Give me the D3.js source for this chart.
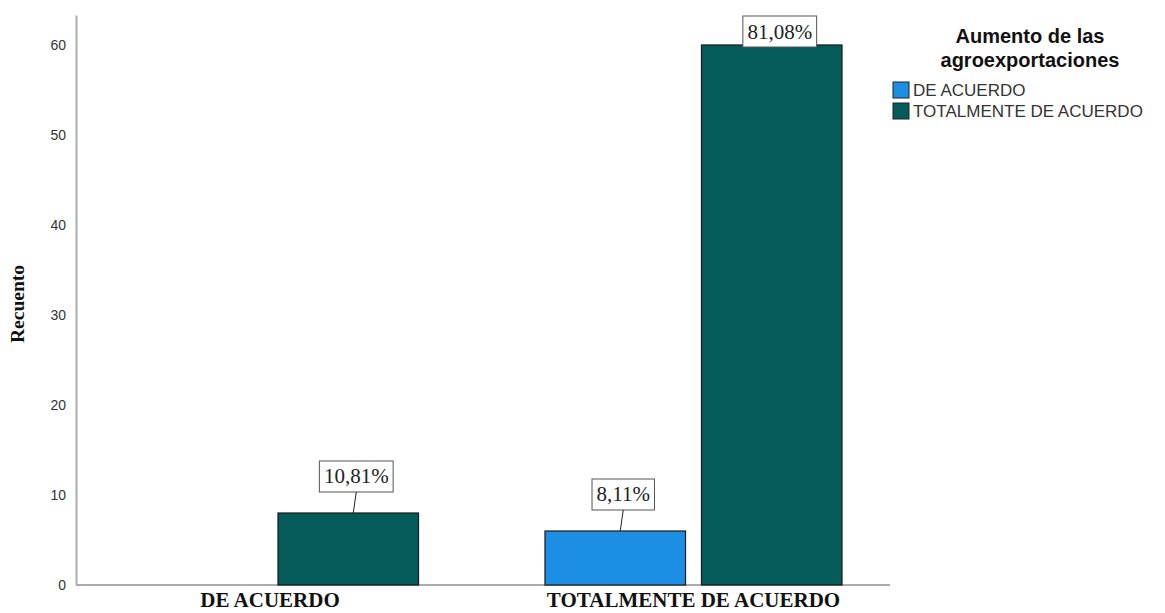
<!DOCTYPE html>
<html lang="es">
<head>
    <meta charset="utf-8">
    <title>Aumento de las agroexportaciones</title>
    <script src="https://d3js.org/d3.v7.min.js"></script>
    <style>
        html, body {
            margin: 0;
            padding: 0;
            background: #fff;
        }
        .tick text {
            font-family: Arial, "Liberation Sans", sans-serif;
            font-size: 14px;
            fill: #333;
        }
        .xlab {
            font-family: "Times New Roman", "Liberation Serif", serif;
            font-weight: bold;
            font-size: 21px;
            fill: #111;
        }
        .pct {
            font-family: "Times New Roman", "Liberation Serif", serif;
            font-size: 21px;
            fill: #222;
        }
        .legend text {
            font-family: Arial, "Liberation Sans", sans-serif;
        }
    </style>
</head>
<body>
<script>
    var w = 1165, h = 613;

    // categories on the x axis
    var categories = ["DE ACUERDO", "TOTALMENTE DE ACUERDO"];
    // series (legend)
    var seriesNames = ["DE ACUERDO", "TOTALMENTE DE ACUERDO"];
    var seriesColors = ["#1c8fe4", "#045b59"];
    // counts per series, one value per category (null = no bar)
    var countDeAcuerdo = [null, 6];
    var countTotalmente = [8, 60];
    // percent labels shown over the bars
    var pctDeAcuerdo = [null, "8,11%"];
    var pctTotalmente = ["10,81%", "81,08%"];
    var yTicks = [0, 10, 20, 30, 40, 50, 60];

    var seriesCounts = [countDeAcuerdo, countTotalmente];
    var seriesPct = [pctDeAcuerdo, pctTotalmente];

    var axisX = 76, axisRight = 890, baseY = 585, topY = 15;

    var svg = d3.select("body").append("svg")
        .attr("width", w)
        .attr("height", h);

    var yScale = d3.scaleLinear()
        .domain([0, 63.33])
        .range([baseY, topY]);

    var x0 = d3.scaleBand()
        .domain(categories)
        .range([58.25, 905.25]);

    var x1 = d3.scaleBand()
        .domain(seriesNames)
        .range([0, x0.bandwidth()])
        .paddingInner(0.102)
        .paddingOuter(0.404);

    // y axis
    var yAxis = d3.axisLeft(yScale)
        .tickValues(yTicks)
        .tickSize(0)
        .tickSizeOuter(0)
        .tickPadding(10);

    var gy = svg.append("g")
        .attr("transform", "translate(" + axisX + ",0)")
        .call(yAxis);
    gy.select(".domain").attr("stroke", "#ababab").attr("stroke-width", 2);

    // x axis line
    svg.append("line")
        .attr("x1", axisX).attr("x2", axisRight)
        .attr("y1", baseY).attr("y2", baseY)
        .attr("stroke", "#ababab").attr("stroke-width", 2);

    // bars
    var bars = [];
    seriesNames.forEach(function(s, si) {
        categories.forEach(function(c, ci) {
            var v = seriesCounts[si][ci];
            if (v == null) return;
            bars.push({cat: c, ser: s, si: si, value: v, pct: seriesPct[si][ci]});
        });
    });

    svg.append("g").selectAll("rect")
        .data(bars)
        .join("rect")
        .attr("x", function(d) { return x0(d.cat) + x1(d.ser); })
        .attr("y", function(d) { return yScale(d.value); })
        .attr("width", x1.bandwidth())
        .attr("height", function(d) { return baseY - yScale(d.value); })
        .attr("fill", function(d) { return seriesColors[d.si]; })
        .attr("stroke", "#1a1a1a")
        .attr("stroke-width", 1.2);

    // percent labels
    var boxH = 31;
    var lab = svg.append("g").selectAll("g")
        .data(bars)
        .join("g");

    lab.each(function(d) {
        var g = d3.select(this);
        var cx = x0(d.cat) + x1(d.ser) + x1.bandwidth() / 2;
        var lx = cx + 8;
        var barTop = yScale(d.value);
        var boxBottom = barTop - 21;
        var boxTop = boxBottom - boxH;
        if (boxTop < topY + 1) { boxTop = topY + 1; boxBottom = boxTop + boxH; }
        var t = g.append("text")
            .attr("class", "pct")
            .attr("x", lx)
            .attr("y", boxTop + boxH / 2 + 7)
            .attr("text-anchor", "middle")
            .text(d.pct);
        var bw = t.node().getComputedTextLength() + 9;
        g.insert("rect", "text")
            .attr("x", lx - bw / 2)
            .attr("y", boxTop)
            .attr("width", bw)
            .attr("height", boxH)
            .attr("fill", "#fff")
            .attr("stroke", "#555")
            .attr("stroke-width", 1);
        if (boxBottom < barTop) {
            g.append("line")
                .attr("x1", lx).attr("y1", boxBottom)
                .attr("x2", lx - 3).attr("y2", barTop)
                .attr("stroke", "#222").attr("stroke-width", 1);
        }
    });

    // category labels
    svg.append("g").selectAll("text")
        .data(categories)
        .join("text")
        .attr("class", "xlab")
        .attr("x", function(d) { return x0(d) + x0.bandwidth() / 2; })
        .attr("y", 607)
        .attr("text-anchor", "middle")
        .text(function(d) { return d; });

    // y axis title
    svg.append("text")
        .attr("transform", "translate(24,304) rotate(-90)")
        .attr("text-anchor", "middle")
        .attr("font-family", "'Times New Roman', 'Liberation Serif', serif")
        .attr("font-weight", "bold")
        .attr("font-size", "18px")
        .attr("fill", "#111")
        .attr("textLength", 78)
        .attr("lengthAdjust", "spacingAndGlyphs")
        .text("Recuento");

    // legend
    var legend = svg.append("g").attr("class", "legend");
    legend.append("text")
        .attr("x", 1030).attr("y", 43)
        .attr("text-anchor", "middle")
        .attr("font-weight", "bold")
        .attr("font-size", "20px")
        .attr("fill", "#111")
        .text("Aumento de las");
    legend.append("text")
        .attr("x", 1030).attr("y", 67)
        .attr("text-anchor", "middle")
        .attr("font-weight", "bold")
        .attr("font-size", "20px")
        .attr("fill", "#111")
        .text("agroexportaciones");

    var items = legend.selectAll("g.item")
        .data(seriesNames)
        .join("g")
        .attr("class", "item")
        .attr("transform", function(d, i) { return "translate(893," + (82 + i * 21) + ")"; });
    items.append("rect")
        .attr("width", 16).attr("height", 16)
        .attr("fill", function(d, i) { return seriesColors[i]; })
        .attr("stroke", "#222").attr("stroke-width", 1);
    items.append("text")
        .attr("x", 20).attr("y", 14)
        .attr("font-size", "17px")
        .attr("fill", "#333")
        .text(function(d) { return d; });
</script>
</body>
</html>
